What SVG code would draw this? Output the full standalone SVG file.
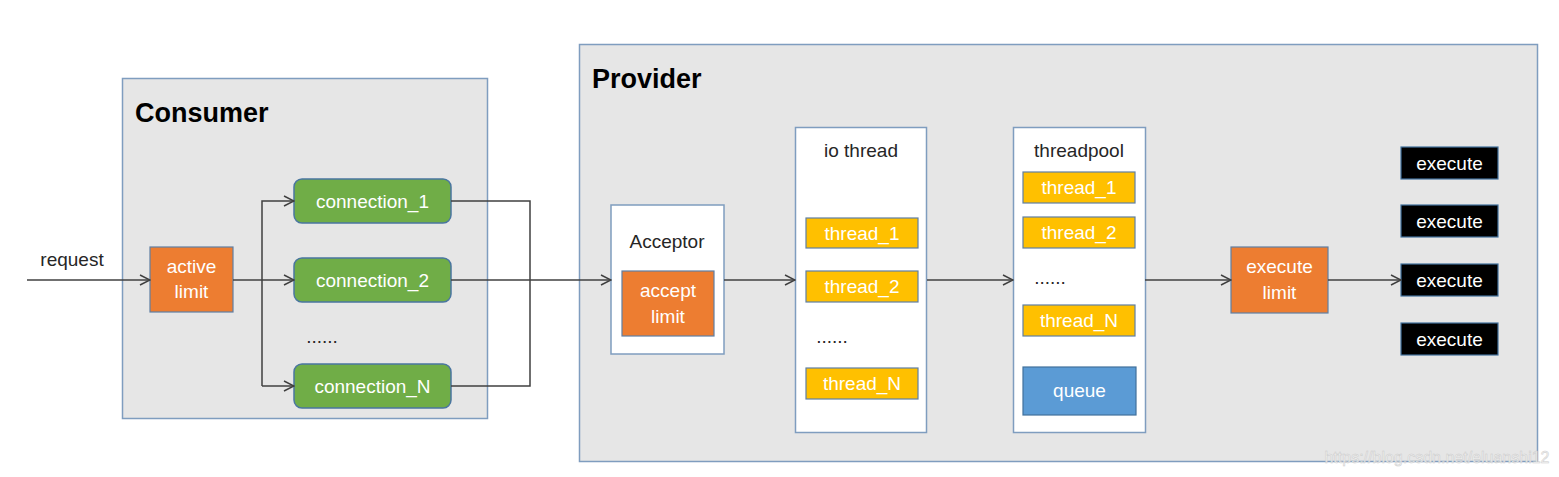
<svg xmlns="http://www.w3.org/2000/svg" width="1559" height="477" viewBox="0 0 1559 477">
<defs>
<style>
.cont{fill:#E6E6E6;stroke:#7F9DBF;stroke-width:1.5}
.wbox{fill:#FFFFFF;stroke:#7F9DBF;stroke-width:1.5}
.orange{fill:#ED7D31;stroke:#5F7FA3;stroke-width:1.2}
.green{fill:#70AD47;stroke:#4A76A0;stroke-width:1.5}
.yellow{fill:#FFC000;stroke:#5F7FA3;stroke-width:1.2}
.blue{fill:#5B9BD5;stroke:#41719C;stroke-width:1.2}
.black{fill:#000000;stroke:#41719C;stroke-width:1.2}
text{font-family:"Liberation Sans",Arial,sans-serif;font-size:19px;text-anchor:middle}
.w{fill:#FFFFFF}
.d{fill:#262626}
.title{font-weight:bold;font-size:27px;fill:#000;text-anchor:start}
.conn{fill:none;stroke:#404040;stroke-width:1.5}
</style>
<marker id="arr" viewBox="0 0 12 12" refX="11" refY="6" markerWidth="12" markerHeight="12" markerUnits="userSpaceOnUse" orient="auto">
<path d="M1,1 L11,6 L1,11" fill="none" stroke="#404040" stroke-width="1.5"/>
</marker>
</defs>
<rect x="0" y="0" width="1559" height="477" fill="#FFFFFF"/>

<g id="consumer">
<rect class="cont" x="122.5" y="78.5" width="365" height="340"/>
<text class="title" x="135" y="122">Consumer</text>
</g>
<g id="provider">
<rect class="cont" x="579.5" y="44.5" width="958" height="417"/>
<text class="title" x="592" y="88">Provider</text>
</g>

<g id="request-label"><text class="d" x="72" y="266">request</text></g>

<g id="active-limit">
<rect class="orange" x="150" y="247" width="83" height="65"/>
<text class="w" x="191.5" y="273">active</text>
<text class="w" x="191.5" y="298">limit</text>
</g>

<g id="connection-1">
<rect class="green" x="294" y="179" width="157" height="44" rx="8"/>
<text class="w" x="372.5" y="208">connection_1</text>
</g>
<g id="connection-2">
<rect class="green" x="294" y="258" width="157" height="44" rx="8"/>
<text class="w" x="372.5" y="287">connection_2</text>
</g>
<g id="connection-dots"><text class="d" x="322" y="343">......</text></g>
<g id="connection-n">
<rect class="green" x="294" y="364" width="157" height="44" rx="8"/>
<text class="w" x="372.5" y="393">connection_N</text>
</g>

<g id="acceptor">
<rect class="wbox" x="611" y="205" width="113" height="149"/>
<text class="d" x="667" y="248">Acceptor</text>
</g>
<g id="accept-limit">
<rect class="orange" x="622" y="271" width="92" height="65"/>
<text class="w" x="668" y="297">accept</text>
<text class="w" x="668" y="323">limit</text>
</g>

<g id="io-thread">
<rect class="wbox" x="795.5" y="127.5" width="131" height="305"/>
<text class="d" x="861" y="157">io thread</text>
</g>
<g id="io-thread-1">
<rect class="yellow" x="806" y="218" width="112" height="30"/>
<text class="w" x="862" y="240">thread_1</text>
</g>
<g id="io-thread-2">
<rect class="yellow" x="806" y="271" width="112" height="31"/>
<text class="w" x="862" y="293">thread_2</text>
</g>
<g id="io-dots"><text class="d" x="832" y="343">......</text></g>
<g id="io-thread-n">
<rect class="yellow" x="806" y="368" width="112" height="31"/>
<text class="w" x="862" y="390">thread_N</text>
</g>

<g id="threadpool">
<rect class="wbox" x="1013.5" y="127.5" width="132" height="305"/>
<text class="d" x="1079" y="157">threadpool</text>
</g>
<g id="tp-thread-1">
<rect class="yellow" x="1023" y="172" width="112" height="31"/>
<text class="w" x="1079" y="194">thread_1</text>
</g>
<g id="tp-thread-2">
<rect class="yellow" x="1023" y="217" width="112" height="31"/>
<text class="w" x="1079" y="239">thread_2</text>
</g>
<g id="tp-dots"><text class="d" x="1050" y="284">......</text></g>
<g id="tp-thread-n">
<rect class="yellow" x="1023" y="305" width="112" height="31"/>
<text class="w" x="1079" y="327">thread_N</text>
</g>
<g id="queue">
<rect class="blue" x="1023" y="367" width="113" height="48"/>
<text class="w" x="1079.5" y="397">queue</text>
</g>

<g id="execute-limit">
<rect class="orange" x="1231" y="247" width="97" height="66"/>
<text class="w" x="1279.5" y="273">execute</text>
<text class="w" x="1279.5" y="299">limit</text>
</g>

<g id="execute-1">
<rect class="black" x="1401" y="147" width="97" height="32"/>
<text class="w" x="1449.5" y="170">execute</text>
</g>
<g id="execute-2">
<rect class="black" x="1401" y="205" width="97" height="32"/>
<text class="w" x="1449.5" y="228">execute</text>
</g>
<g id="execute-3">
<rect class="black" x="1401" y="264" width="97" height="32"/>
<text class="w" x="1449.5" y="287">execute</text>
</g>
<g id="execute-4">
<rect class="black" x="1401" y="323" width="97" height="32"/>
<text class="w" x="1449.5" y="346">execute</text>
</g>

<g id="connectors">
<path class="conn" d="M27,280 H150" marker-end="url(#arr)"/>
<path class="conn" d="M233,280 H294" marker-end="url(#arr)"/>
<path class="conn" d="M262,386 V201 H294" marker-end="url(#arr)"/>
<path class="conn" d="M262,386 H294" marker-end="url(#arr)"/>
<path class="conn" d="M451,201 H530 V386 H451"/>
<path class="conn" d="M451,280 H611" marker-end="url(#arr)"/>
<path class="conn" d="M724,280 H795" marker-end="url(#arr)"/>
<path class="conn" d="M927,280 H1013" marker-end="url(#arr)"/>
<path class="conn" d="M1145,280 H1231" marker-end="url(#arr)"/>
<path class="conn" d="M1328,280 H1401" marker-end="url(#arr)"/>
</g>

<g id="watermark">
<text x="1437" y="463" style="font-size:16px;fill:#F4F4F4;stroke:#C8C8C8;stroke-width:0.5;opacity:0.9">https://blog.csdn.net/eluanshi12</text>
</g>
</svg>
